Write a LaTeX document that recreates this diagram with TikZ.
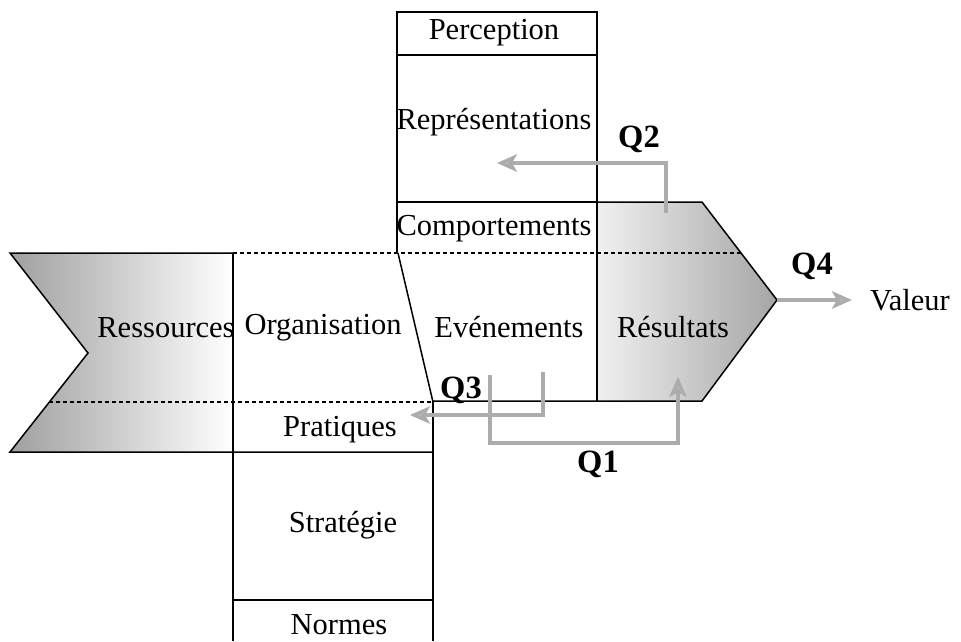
\documentclass[tikz,border=0pt]{standalone}
\usepackage{fontspec}
\setmainfont{Liberation Serif}
\usetikzlibrary{arrows.meta}
\tikzset{
  lbl/.style={font=\fontsize{12.2}{14}\selectfont, inner sep=1pt},
  qlbl/.style={font=\fontsize{13}{15}\selectfont\bfseries, inner sep=1pt},
  qarrow/.style={draw=gray!65, line width=1.3pt, -{Stealth[length=8pt,width=7pt,inset=2pt,fill=gray!55]}},
  border/.style={dash pattern=on 1.6pt off 1.2pt},
}
\begin{document}
\begin{tikzpicture}[x=0.4pt, y=-0.4pt, line width=0.6pt]
    \useasboundingbox (0,0) rectangle (961,641);
    % shaded ends of the arrow
    \shade[left color=gray!75, right color=white] (10,253) -- (233,253) -- (233,452) -- (10,452) -- (88,353) -- cycle;
    \shade[left color=gray!12, right color=gray!70] (598,202) -- (702,202) -- (777,300) -- (702,401) -- (598,401) -- cycle;
    % outline of the arrow
    \draw (233,253) -- (10,253) -- (88,353) -- (10,452) -- (433,452);
    \draw (433,401) -- (702,401) -- (777,300) -- (702,202) -- (598,202);
    \coordinate (tip) at (777,300);
    % upper column
    \draw (397,253) -- (397,12) -- (597,12) -- (597,401);
    \draw (397,55) -- (597,55);
    \draw (397,202) -- (597,202);
    % lower column
    \draw (233,253) -- (233,641);
    \draw (433,402) -- (433,641);
    \draw (233,600) -- (433,600);
    \draw (398,253) -- (433,402);
    % frontiers
    \draw[border] (233,253) -- (741,253);
    \draw[border] (49,402) -- (433,402);
    % labels
    \node[lbl] (perception) at (494,33) {Perception};
    \node[lbl] (representations) at (494,122) {Représentations};
    \node[lbl] (comportements) at (494,229) {Comportements};
    \node[lbl] (ressources) at (166,328) {Ressources};
    \node[lbl] (organisation) at (323,328) {Organisation};
    \node[lbl] (evenements) at (509,327) {Evénements};
    \node[lbl] (resultats) at (673,327) {Résultats};
    \node[lbl] (pratiques) at (340,430) {Pratiques};
    \node[lbl] (strategie) at (343,525) {Stratégie};
    \node[lbl] (normes) at (339,625) {Normes};
    \node[lbl] (valeur) at (910,300) {Valeur};
    \node[qlbl] (q1) at (598,464) {Q1};
    \node[qlbl] (q2) at (639,139) {Q2};
    \node[qlbl] (q3) at (461,390) {Q3};
    \node[qlbl] (q4) at (812,266) {Q4};
    % questions
    \coordinate (q1from) at (490,375);
    \coordinate (q1to) at (678,377);
    \coordinate (q2from) at (666,213);
    \coordinate (q2to) at (497,163);
    \coordinate (q3from) at (543,372);
    \coordinate (q3to) at (410,415);
    \draw[qarrow] (q1from) -- ++(0,68) -| (q1to);
    \draw[qarrow] (q2from) |- (q2to);
    \draw[qarrow] (q3from) |- (q3to);
    \draw[qarrow, shorten >=6pt] (tip) -- (valeur);
\end{tikzpicture}
\end{document}
